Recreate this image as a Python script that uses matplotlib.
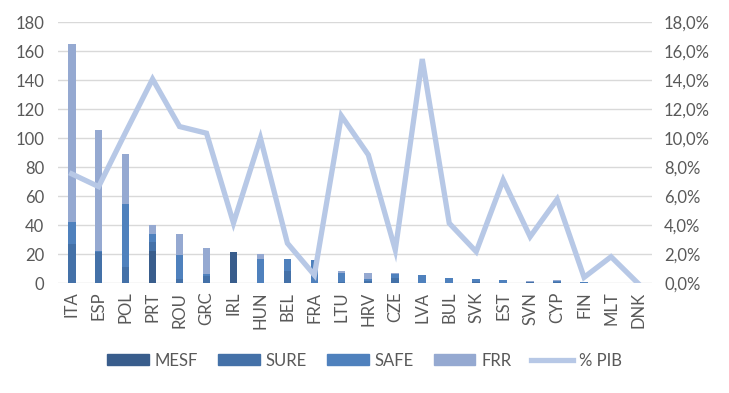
import matplotlib
matplotlib.use("Agg")
import matplotlib.pyplot as plt
import numpy as np
from matplotlib.patches import Patch
from matplotlib.lines import Line2D

plt.rcParams["font.family"] = ["Lato", "DejaVu Sans"]

countries = ["ITA", "ESP", "POL", "PRT", "ROU", "GRC", "IRL", "HUN", "BEL", "FRA", "LTU",
             "HRV", "CZE", "LVA", "BUL", "SVK", "EST", "SVN", "CYP", "FIN", "MLT", "DNK"]
mesf = [0, 0, 0, 22.5, 0, 0, 21.7, 0, 0, 0, 0, 0, 0, 0, 0, 0, 0, 0, 0, 0, 0, 0]
sure = [27.4, 21.3, 11.2, 6.0, 3.0, 5.3, 0, 0.5, 8.2, 0, 0.6, 1.5, 4.0, 0.3, 0.5, 0.6, 0.2, 1.1, 0.6, 0, 0.2, 0]
safe = [14.9, 1.0, 43.7, 5.5, 16.6, 0.8, 0, 16.2, 8.3, 16.1, 6.4, 1.7, 2.1, 5.5, 3.2, 2.3, 2.1, 0, 1.2, 0.9, 0, 0.05]
frr = [122.6, 83.2, 34.5, 6.2, 14.4, 18.2, 0, 3.5, 0.3, 0, 1.5, 3.9, 0.9, 0, 0, 0, 0, 0.5, 0.4, 0, 0, 0]
pct_pib = [7.54, 6.66, 10.4, 14.07, 10.8, 10.34, 4.15, 10.0, 2.76, 0.57, 11.54, 8.85, 2.3, 15.45,
           4.14, 2.18, 7.12, 3.21, 5.79, 0.41, 1.83, 0.0]

c_mesf = "#395d8c"
c_sure = "#4471a8"
c_safe = "#4f81bd"
c_frr = "#95a9d1"
c_line = "#b7c8e6"
txt = "#595959"

fig = plt.figure(figsize=(7.29, 3.93), dpi=100)
ax = fig.add_axes([0.0798, 0.2791, 0.8139, 0.6649])
ax2 = ax.twinx()

x = np.arange(len(countries))
w = 0.285
b = np.zeros(len(countries))
for vals, col in [(mesf, c_mesf), (sure, c_sure), (safe, c_safe), (frr, c_frr)]:
    ax.bar(x, vals, w, bottom=b, color=col, zorder=2)
    b = b + np.array(vals)

ax2.plot(x, pct_pib, color=c_line, lw=3.8, solid_joinstyle="miter", zorder=3)

ax.set_xlim(-0.5, len(countries) - 0.5)
ax.set_ylim(0, 180)
ax.set_yticks(np.arange(0, 181, 20))
ax2.set_ylim(0, 18)
ax2.set_yticks(np.arange(0, 18.1, 2))
ax2.set_yticklabels([f"{v:.1f}%".replace(".", ",") for v in np.arange(0, 18.1, 2)])

ax.set_xticks(x)
ax.set_xticklabels(countries, rotation=90)
ax.grid(axis="y", color="#d9d9d9", lw=1, zorder=0)
ax.set_axisbelow(True)
for a in (ax, ax2):
    for s in a.spines.values():
        s.set_visible(False)
    a.tick_params(length=0, colors=txt, labelsize=12)
ax.tick_params(axis="y", pad=10)
ax2.tick_params(axis="y", pad=9)
ax.tick_params(axis="x", pad=6)

handles = [Patch(color=c_mesf), Patch(color=c_sure), Patch(color=c_safe), Patch(color=c_frr),
           Line2D([0], [0], color=c_line, lw=3.8)]
labels = ["MESF", "SURE", "SAFE", "FRR", "% PIB"]
leg = fig.legend(handles, labels, loc="center", bbox_to_anchor=(0.5, 0.082), ncol=5,
                 frameon=False, fontsize=12, handlelength=2.5, handleheight=0.65,
                 columnspacing=1.2, handletextpad=0.35)
for t in leg.get_texts():
    t.set_color(txt)

fig.savefig("out.png", dpi=100)
